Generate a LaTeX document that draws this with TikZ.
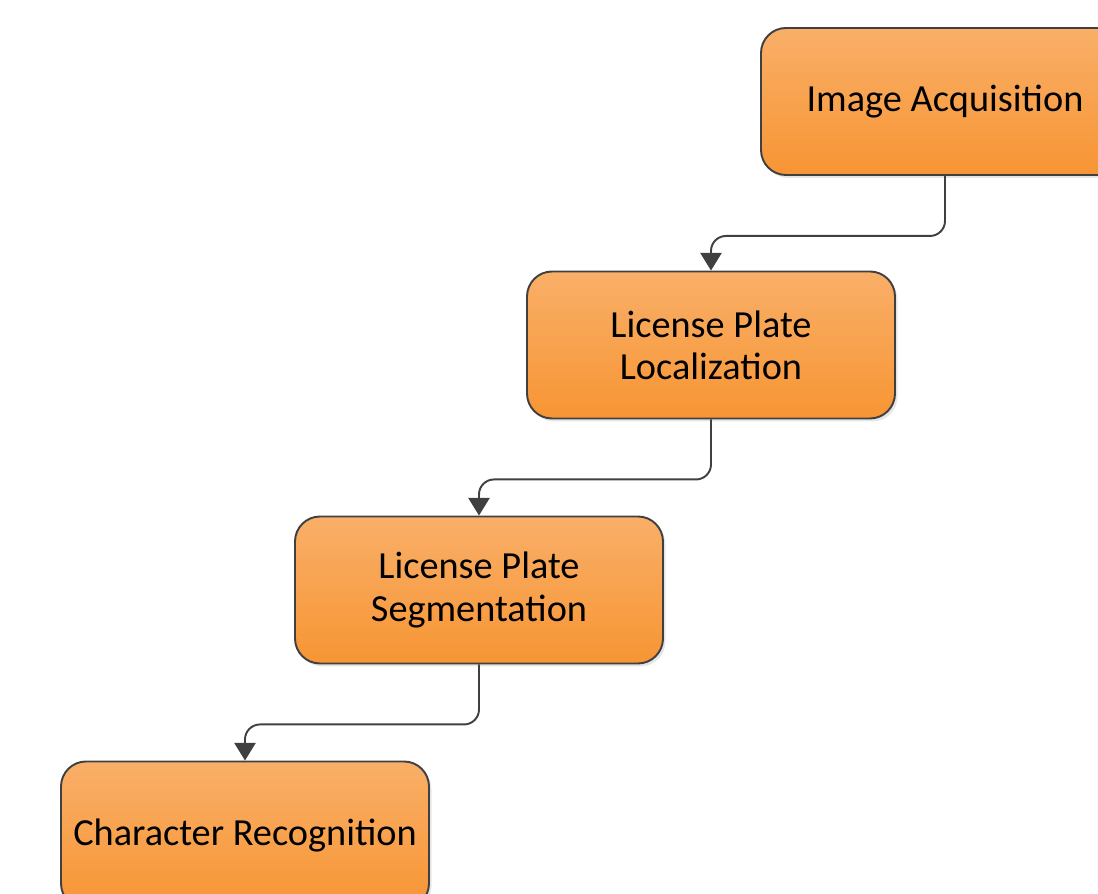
\documentclass[tikz,border=0pt]{standalone}
\usepackage{fontspec}
\setmainfont{Carlito}
\usepackage{tikz}
\usetikzlibrary{arrows.meta, shadows}

\definecolor{boxtop}{RGB}{249,175,104}
\definecolor{boxbot}{RGB}{247,149,52}
\definecolor{edge}{RGB}{64,64,64}

\begin{document}
\begin{tikzpicture}[>={Triangle[width=12pt,length=10pt]},
    stage/.style={draw=edge, line width=1.1pt, rounded corners=0.5cm,
      top color=boxtop, bottom color=boxbot,
      minimum width=7.36cm, minimum height=2.94cm, align=center,
      font=\fontsize{21.8}{24}\selectfont,
      drop shadow={opacity=0.2, shadow xshift=0.05cm, shadow yshift=-0.06cm}},
    link/.style={->, draw=edge, line width=1.1pt, rounded corners=0.3cm}]
  \useasboundingbox (0,0) rectangle (21.96,-17.88);
  \node [stage] (acq) at (18.9,-2.03) {Image Acquisition};
  \node [stage] (loc) at (14.22,-6.9) {License Plate\\Localization};
  \node [stage] (seg) at (9.58,-11.8) {License Plate\\Segmentation};
  \node [stage] (rec) at (4.9,-16.7) {Character Recognition};
  \draw [link] (acq.south) -- ++(0,-1.2) -| (loc.north);
  \draw [link] (loc.south) -- ++(0,-1.2) -| (seg.north);
  \draw [link] (seg.south) -- ++(0,-1.2) -| (rec.north);
\end{tikzpicture}
\end{document}
